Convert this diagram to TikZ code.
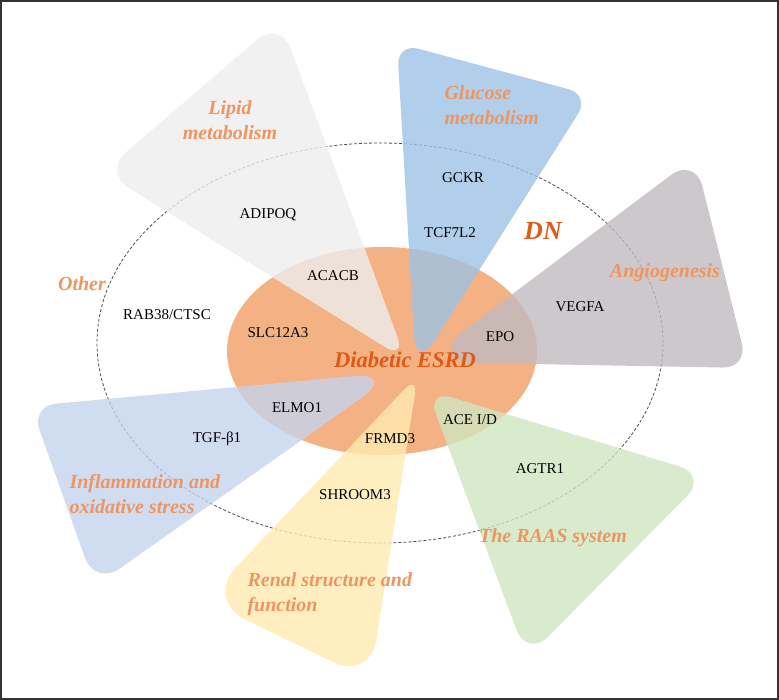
\documentclass[tikz,border=0pt]{standalone}
\usepackage{fontspec}
\setmainfont{Liberation Serif}
\usetikzlibrary{calc}
\definecolor{esrd}{HTML}{F4B183}
\definecolor{esrdtext}{HTML}{E05A16}
\definecolor{grouptext}{HTML}{EF9660}
\definecolor{lipid}{HTML}{EDEDED}
\definecolor{glucose}{HTML}{9DC3E6}
\definecolor{angio}{HTML}{BFBABF}
\definecolor{inflam}{HTML}{C4D3EC}
\definecolor{renal}{HTML}{FFEAB0}
\definecolor{raas}{HTML}{CFE6C1}
\tikzset{gene/.style = {font = \fontsize{15}{18}\selectfont}}
\tikzset{group/.style = {text = grouptext, font = \fontsize{20}{25}\selectfont\bfseries\itshape}}
\tikzset{petal/.style = {fill opacity = 0.8}}
% rounded triangle: colour, three corners, three corner radii (pt)
\newcommand{\petalpath}[7]{%
  \fill[#1, petal] ($(#2)!#5pt!(#3)$) -- ($(#3)!#6pt!(#2)$)
    .. controls ($(#3)!0.45*#6pt!(#2)$) and ($(#3)!0.45*#6pt!(#4)$) .. ($(#3)!#6pt!(#4)$)
    -- ($(#4)!#7pt!(#3)$)
    .. controls ($(#4)!0.45*#7pt!(#3)$) and ($(#4)!0.45*#7pt!(#2)$) .. ($(#4)!#7pt!(#2)$)
    -- ($(#2)!#5pt!(#4)$)
    .. controls ($(#2)!0.45*#5pt!(#4)$) and ($(#2)!0.45*#5pt!(#3)$) .. ($(#2)!#5pt!(#3)$) -- cycle;}

\begin{document}
\begin{tikzpicture}[x = 1pt, y = -1pt]
	\useasboundingbox (0, 0) rectangle (779, 700);

	\draw[dashed, dash pattern = on 3pt off 2pt, line width = 0.8pt, black!70] (380, 343) ellipse [x radius = 283pt, y radius = 200pt];
	\fill[esrd] (382, 351) ellipse [x radius = 155pt, y radius = 104pt];

	% petal corners
	\coordinate (lipA) at (280, 20);
	\coordinate (lipB) at (103, 172);
	\coordinate (lipC) at (406, 360);
	\coordinate (gluA) at (397, 43);
	\coordinate (gluB) at (590, 95);
	\coordinate (gluC) at (416, 370);
	\coordinate (angA) at (695, 157);
	\coordinate (angB) at (748, 368);
	\coordinate (angC) at (422, 362);
	\coordinate (infA) at (31, 406);
	\coordinate (infB) at (95, 586);
	\coordinate (infC) at (398, 372);
	\coordinate (renA) at (418, 375);
	\coordinate (renB) at (205, 600);
	\coordinate (renC) at (370, 680);
	\coordinate (raaA) at (427, 390);
	\coordinate (raaB) at (708, 475);
	\coordinate (raaC) at (527, 658);

	\petalpath{lipid}{lipA}{lipB}{lipC}{30}{30}{25}
	\petalpath{glucose}{gluA}{gluB}{gluC}{22}{22}{35}
	\petalpath{angio}{angA}{angB}{angC}{30}{25}{55}
	\petalpath{inflam}{infA}{infB}{infC}{25}{30}{45}
	\petalpath{renal}{renA}{renB}{renC}{20}{45}{40}
	\petalpath{raas}{raaA}{raaB}{raaC}{25}{30}{30}

	% group labels
	\node[group, align = center] (lipidlab) at (230, 120) {Lipid\\metabolism};
	\node[group, align = left, anchor = west] (glucoselab) at (441, 105) {Glucose\\metabolism};
	\node[group] (angiolab) at (665, 273) {Angiogenesis};
	\node[group] (otherlab) at (82, 284) {Other};
	\node[group, align = left, anchor = west] (inflamlab) at (66, 494) {Inflammation and\\oxidative stress};
	\node[group, align = left, anchor = west] (renallab) at (244, 594) {Renal structure and\\function};
	\node[group] (raaslab) at (553, 538) {The RAAS system};

	% genes
	\node[gene] (adipoq) at (268, 215) {ADIPOQ};
	\node[gene] (acacb) at (333, 276) {ACACB};
	\node[gene] (rab) at (167, 315) {RAB38/CTSC};
	\node[gene] (slc) at (278, 333) {SLC12A3};
	\node[gene] (gckr) at (463, 178) {GCKR};
	\node[gene] (tcf) at (450, 233) {TCF7L2};
	\node[gene] (vegfa) at (580, 307) {VEGFA};
	\node[gene] (epo) at (500, 337) {EPO};
	\node[gene] (elmo) at (297, 408) {ELMO1};
	\node[gene] (tgf) at (217, 439) {TGF-β1};
	\node[gene] (frmd) at (390, 439) {FRMD3};
	\node[gene] (ace) at (470, 420) {ACE I/D};
	\node[gene] (agtr) at (540, 469) {AGTR1};
	\node[gene] (shroom) at (355, 495) {SHROOM3};

	\node[text = esrdtext, font = \fontsize{22.5}{27}\selectfont\bfseries\itshape] (esrdlab) at (405, 360) {Diabetic ESRD};
	\node[text = esrdtext, font = \fontsize{26}{30}\selectfont\bfseries\itshape] (dnlab) at (543, 231) {DN};

	\draw[line width = 2pt, black!80] (1, 1) rectangle (778, 699);
\end{tikzpicture}
\end{document}
